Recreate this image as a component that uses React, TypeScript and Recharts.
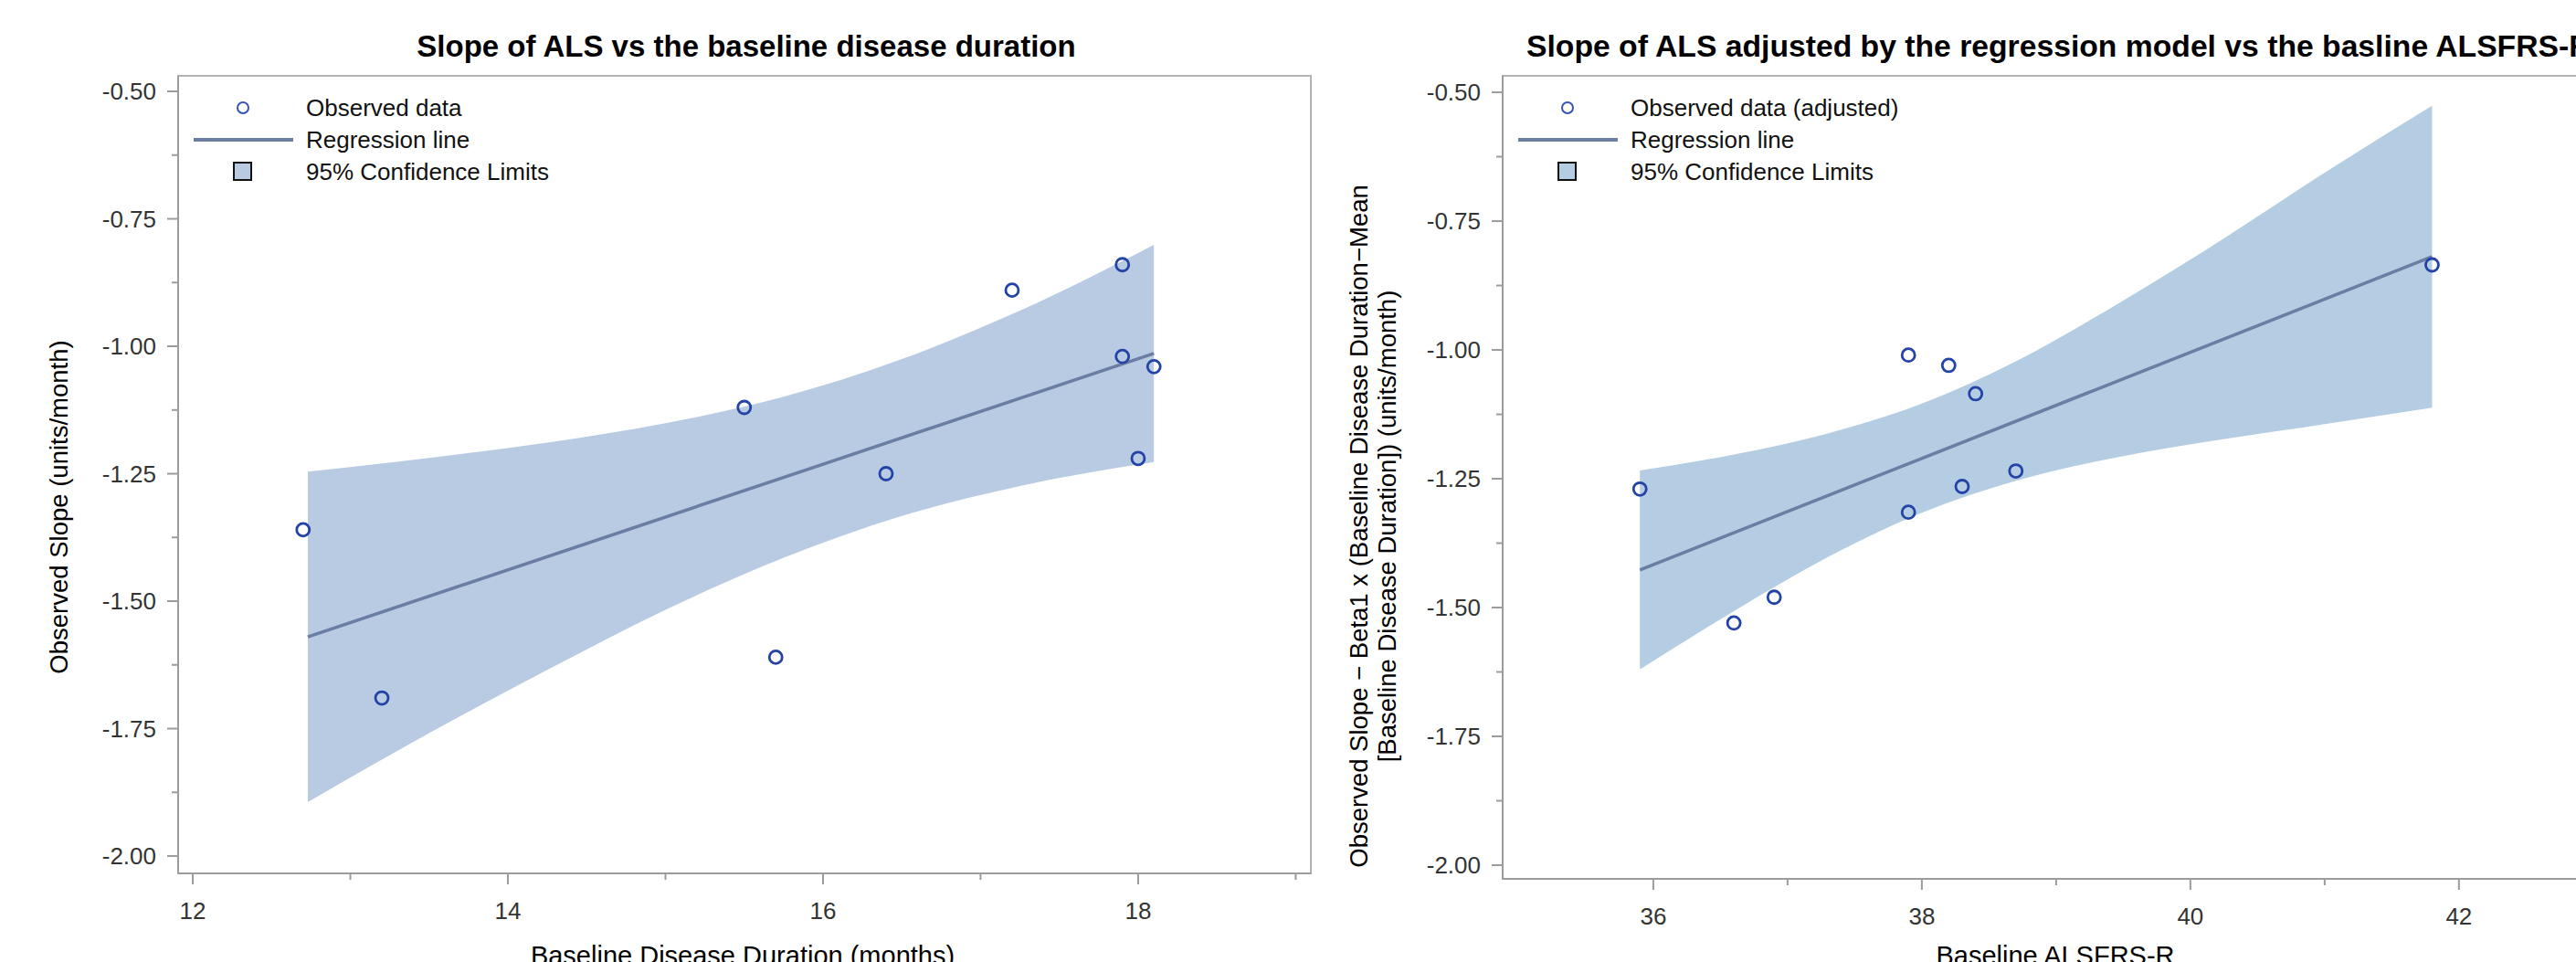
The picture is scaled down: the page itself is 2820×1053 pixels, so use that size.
import React from "react";
import { Area, ComposedChart, Line, ReferenceArea, Scatter, XAxis, YAxis } from "recharts";

const FONT = '"Liberation Sans", Arial, sans-serif';

// left panel: slope vs baseline disease duration
const leftX = [12.7, 13.2, 15.5, 15.7, 16.4, 17.2, 17.9, 17.9, 18.1, 18.0];
const leftY = [-1.36, -1.69, -1.12, -1.61, -1.25, -0.89, -0.84, -1.02, -1.04, -1.22];
const leftFitX = [12.73, 18.1];
const leftFitY = [-1.57, -1.014];
const leftBandX = [12.73, 13.5, 14.25, 15.0, 15.75, 16.5, 17.25, 18.1];
const leftBandLow = [-1.894, -1.759, -1.635, -1.517, -1.415, -1.333, -1.274, -1.227];
const leftBandHigh = [-1.246, -1.219, -1.189, -1.151, -1.099, -1.025, -0.93, -0.801];
const leftXTicks = [12, 13, 14, 15, 16, 17, 18, 19];

// right panel: adjusted slope vs baseline ALSFRS-R
const rightX = [35.9, 36.6, 36.9, 37.9, 38.2, 38.4, 37.9, 38.3, 38.7, 41.8];
const rightY = [-1.27, -1.53, -1.48, -1.01, -1.03, -1.085, -1.315, -1.265, -1.235, -0.835];
const rightFitX = [35.9, 41.8];
const rightFitY = [-1.427, -0.819];
const rightBandX = [35.9, 36.6, 37.3, 38.0, 38.7, 39.5, 40.3, 41.0, 41.8];
const rightBandLow = [-1.62, -1.507, -1.402, -1.316, -1.254, -1.206, -1.171, -1.144, -1.112];
const rightBandHigh = [-1.234, -1.203, -1.162, -1.104, -1.022, -0.904, -0.775, -0.656, -0.526];
const rightXTicks = [36, 37, 38, 39, 40, 41, 42];

const yTicks = [-2.0, -1.875, -1.75, -1.625, -1.5, -1.375, -1.25, -1.125, -1.0, -0.875, -0.75, -0.625, -0.5];

const zip = (xs: number[], ys: number[]) => xs.map((x, i) => ({ x, y: ys[i] }));
const bandRows = (xs: number[], lo: number[], hi: number[]) => xs.map((x, i) => ({ x, y: [lo[i], hi[i]] }));

const AXIS = "#9c9c9c";

const YTick = (props: any) => {
  const { x, y, payload } = props;
  const v = payload.value;
  const major = Math.abs(v * 4 - Math.round(v * 4)) < 1e-6;
  return (
    <g>
      <line x1={x - (major ? 12 : 7)} x2={x} y1={y} y2={y} stroke={AXIS} strokeWidth={2} />
      {major && (
        <text x={x - 24} y={y} dy="0.35em" textAnchor="end" fontSize={26} fontFamily={FONT} fill="#333">
          {v.toFixed(2)}
        </text>
      )}
    </g>
  );
};

const XTick = (props: any) => {
  const { x, y, payload } = props;
  const major = payload.value % 2 === 0;
  return (
    <g>
      <line x1={x} x2={x} y1={y} y2={y + (major ? 12 : 7)} stroke={AXIS} strokeWidth={2} />
      {major && (
        <text x={x} y={y + 50} textAnchor="middle" fontSize={26} fontFamily={FONT} fill="#333">
          {payload.value}
        </text>
      )}
    </g>
  );
};

const Dot = (props: any) => (
  <circle cx={props.cx} cy={props.cy} r={7} fill="none" stroke="#2443a6" strokeWidth={2.8} />
);

type PanelProps = {
  width: number;
  height: number;
  plotLeft: number;
  plotRight: number;
  plotTop: number;
  plotBottom: number;
  xDomain: [number, number];
  yDomain: [number, number];
  xTicks: number[];
  points: { x: number; y: number }[];
  fit: { x: number; y: number }[];
  band: { x: number; y: number[] }[];
  bandColor: string;
  title: string;
  titleX: number;
  titleAnchor: "start" | "middle";
  titleSize: number;
  yLabel: { text: string; x: number }[];
  yLabelY: number;
  xLabel: string;
  xLabelX: number;
  legend: string[];
};

function Panel(p: PanelProps) {
  const rowY = [p.plotTop + 35, p.plotTop + 70, p.plotTop + 105];
  const lx = p.plotLeft;
  return (
    <ComposedChart
      width={p.width}
      height={p.height}
      margin={{ top: p.plotTop, right: p.width - p.plotRight, left: 0, bottom: 0 }}
    >
      <XAxis
        type="number"
        dataKey="x"
        domain={p.xDomain}
        ticks={p.xTicks}
        interval={0}
        allowDataOverflow
        height={p.height - p.plotBottom}
        tickSize={0}
        tickMargin={0}
        tickLine={false}
        tick={<XTick />}
        axisLine={{ stroke: AXIS, strokeWidth: 2 }}
      />
      <YAxis
        type="number"
        dataKey="y"
        domain={p.yDomain}
        ticks={yTicks}
        interval={0}
        allowDataOverflow
        width={p.plotLeft}
        tickSize={0}
        tickMargin={0}
        tickLine={false}
        tick={<YTick />}
        axisLine={{ stroke: AXIS, strokeWidth: 2 }}
      />
      <ReferenceArea
        x1={p.xDomain[0]}
        x2={p.xDomain[1]}
        y1={p.yDomain[0]}
        y2={p.yDomain[1]}
        fill="none"
        stroke="#b2b2b2"
        strokeWidth={2}
      />
      <Area
        data={p.band}
        dataKey="y"
        type="monotone"
        fill={p.bandColor}
        fillOpacity={1}
        stroke="none"
        isAnimationActive={false}
        activeDot={false}
        dot={false}
      />
      <Line
        data={p.fit}
        dataKey="y"
        type="linear"
        stroke="#6a7ea3"
        strokeWidth={3.5}
        dot={false}
        activeDot={false}
        isAnimationActive={false}
      />
      <Scatter data={p.points} dataKey="y" shape={<Dot />} isAnimationActive={false} />

      <text
        x={p.titleX}
        y={62}
        textAnchor={p.titleAnchor}
        fontSize={p.titleSize}
        fontWeight="bold"
        fontFamily={FONT}
        fill="#000"
      >
        {p.title}
      </text>
      {p.yLabel.map((l) => (
        <text
          key={l.text}
          x={l.x}
          y={p.yLabelY}
          transform={`rotate(-90 ${l.x} ${p.yLabelY})`}
          textAnchor="middle"
          dominantBaseline="central"
          fontSize={27.5}
          fontFamily={FONT}
          fill="#000"
        >
          {l.text}
        </text>
      ))}
      <text x={p.xLabelX} y={1056} textAnchor="middle" fontSize={29} fontFamily={FONT} fill="#000">
        {p.xLabel}
      </text>

      <g fontFamily={FONT} fontSize={26} fill="#111">
        <circle cx={lx + 71} cy={rowY[0]} r={6} fill="none" stroke="#3553b8" strokeWidth={2} />
        <line x1={lx + 17} x2={lx + 126} y1={rowY[1]} y2={rowY[1]} stroke="#6a7ea3" strokeWidth={4} />
        <rect x={lx + 61} y={rowY[2] - 10} width={19} height={19} fill={p.bandColor} stroke="#111" strokeWidth={2} />
        {p.legend.map((t, i) => (
          <text key={t} x={lx + 140} y={rowY[i]} dy="0.35em">
            {t}
          </text>
        ))}
      </g>
    </ComposedChart>
  );
}

export default function App() {
  return (
    <div
      style={{
        position: "absolute",
        left: 0,
        top: 0,
        width: 2820,
        height: 1053,
        overflow: "hidden",
        background: "#fff",
      }}
    >
      <div style={{ position: "absolute", left: 0, top: 0 }}>
        <Panel
          width={1460}
          height={1053}
          plotLeft={195}
          plotRight={1435}
          plotTop={83}
          plotBottom={956}
          xDomain={[11.907, 19.096]}
          yDomain={[-2.034, -0.4695]}
          xTicks={leftXTicks}
          points={zip(leftX, leftY)}
          fit={zip(leftFitX, leftFitY)}
          band={bandRows(leftBandX, leftBandLow, leftBandHigh)}
          bandColor="#b8cbe3"
          title="Slope of ALS vs the baseline disease duration"
          titleX={817}
          titleAnchor="middle"
          titleSize={33}
          yLabel={[{ text: "Observed Slope (units/month)", x: 64 }]}
          yLabelY={555}
          xLabel="Baseline Disease Duration (months)"
          xLabelX={813}
          legend={["Observed data", "Regression line", "95% Confidence Limits"]}
        />
      </div>
      <div style={{ position: "absolute", left: 1460, top: 0 }}>
        <Panel
          width={1440}
          height={1053}
          plotLeft={185}
          plotRight={1395}
          plotTop={83}
          plotBottom={962}
          xDomain={[34.878, 43.11]}
          yDomain={[-2.0266, -0.468]}
          xTicks={rightXTicks}
          points={zip(rightX, rightY)}
          fit={zip(rightFitX, rightFitY)}
          band={bandRows(rightBandX, rightBandLow, rightBandHigh)}
          bandColor="#b4cde3"
          title="Slope of ALS adjusted by the regression model vs the basline ALSFRS-R"
          titleX={211}
          titleAnchor="start"
          titleSize={33.7}
          yLabel={[
            { text: "Observed Slope \u2212 Beta1 x (Baseline Disease Duration\u2212Mean", x: 27 },
            { text: "[Baseline Disease Duration]) (units/month)", x: 58 },
          ]}
          yLabelY={576}
          xLabel="Baseline ALSFRS-R"
          xLabelX={790}
          legend={["Observed data (adjusted)", "Regression line", "95% Confidence Limits"]}
        />
      </div>
    </div>
  );
}
